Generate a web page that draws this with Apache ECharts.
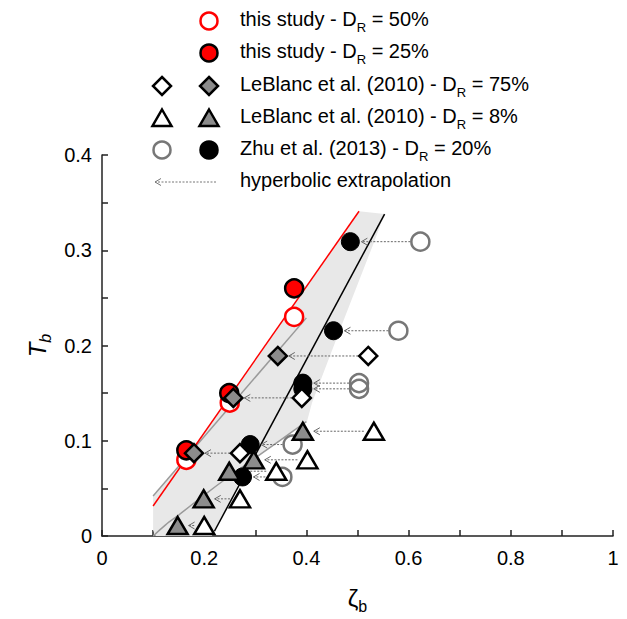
<!DOCTYPE html>
<html><head><meta charset="utf-8">
<script src="https://cdn.jsdelivr.net/npm/echarts@6/dist/echarts.min.js"></script>
<style>html,body{margin:0;padding:0;background:#fff}#c{width:627px;height:619px}</style>
</head><body><div id="c"></div>
<script>
// ---- data ----
const study50X = [0.165, 0.25, 0.376];
const study50Y = [0.08, 0.14, 0.23];
const study25X = [0.165, 0.249, 0.376];
const study25Y = [0.09, 0.15, 0.26];

const lb75Y = [0.087, 0.145, 0.189];
const lb75FilledX = [0.18, 0.257, 0.344];
const lb75OpenX = [0.27, 0.391, 0.521];

const lb8Y = [0.011, 0.039, 0.068, 0.08, 0.11];
const lb8FilledX = [0.148, 0.199, 0.249, 0.297, 0.393];
const lb8OpenX = [0.2, 0.27, 0.341, 0.402, 0.532];

const zhuY = [0.309, 0.2155, 0.1605, 0.1545, 0.096, 0.062];
const zhuFilledX = [0.486, 0.453, 0.393, 0.393, 0.29, 0.275];
const zhuOpenX = [0.623, 0.58, 0.503, 0.503, 0.373, 0.353];

const redLineX = [0.1, 0.503];
const redLineY = [0.0315, 0.341];
const grayUpperX = [0.1, 0.4];
const grayUpperY = [0.042, 0.229];
const grayLowerX = [0.1, 0.125, 0.15, 0.2, 0.25, 0.3, 0.35, 0.4];
const grayLowerY = [0, 0.012, 0.022, 0.043, 0.063, 0.082, 0.101, 0.12];
const blackLineX = [0.22, 0.553];
const blackLineY = [0.005, 0.338];

const bandX = [0.1, 0.169, 0.503, 0.553, 0.532, 0.466, 0.411, 0.401, 0.35, 0.295, 0.22, 0.215, 0.105, 0.1];
const bandY = [0.042, 0.085, 0.341, 0.338, 0.308, 0.217, 0.14, 0.12, 0.101, 0.08, 0.005, 0, 0, 0.006];

const xTickLabels = [0, 0.2, 0.4, 0.6, 0.8, 1];
const yTickLabels = [0, 0.1, 0.2, 0.3, 0.4];

const legendLabels = [
  '{m|this study - D}{sub|R}{m| = 50%}',
  '{m|this study - D}{sub|R}{m| = 25%}',
  '{m|LeBlanc et al. (2010) - D}{sub|R}{m| = 75%}',
  '{m|LeBlanc et al. (2010) - D}{sub|R}{m| = 8%}',
  '{m|Zhu et al. (2013) - D}{sub|R}{m| = 20%}',
  '{m|hyperbolic extrapolation}'
];

// ---- helpers ----
const FONT = 'Liberation Sans, Arial, Helvetica, sans-serif';
const zip = (xs, ys) => xs.map((x, i) => [x, ys[i]]);
const arrowRows = [];
zhuY.forEach((y, i) => arrowRows.push([zhuFilledX[i], zhuOpenX[i], y]));
lb75Y.forEach((y, i) => arrowRows.push([lb75FilledX[i], lb75OpenX[i], y]));
lb8Y.forEach((y, i) => arrowRows.push([lb8FilledX[i], lb8OpenX[i], y]));

const GRAY_FILL = '#8c8c8c';
const OPEN_GRAY = '#777777';
const MS = 18;

function lineSeries(xs, ys, color, smooth) {
  return {type: 'line', data: zip(xs, ys), showSymbol: false, symbol: 'none', smooth: smooth || false,
    lineStyle: {color: color, width: 1.5}, silent: true, z: 3};
}
function scatter(xs, ys, symbol, size, fill, border, bw, z) {
  return {type: 'scatter', data: zip(xs, ys), symbol: symbol, symbolSize: size,
    itemStyle: {color: fill, borderColor: border, borderWidth: bw, opacity: 1},
    emphasis: {disabled: true}, silent: true, z: z};
}

// ---- legend graphics ----
const rows = [21, 53, 86, 118, 150, 182];
const c1 = 162, c2 = 209, tx = 240;
const g = [];
function gCircle(cx, cy, fill, stroke) {
  g.push({type: 'circle', shape: {cx: cx, cy: cy, r: 8.5}, style: {fill: fill, stroke: stroke, lineWidth: 2.5}});
}
function gDiamond(cx, cy, fill) {
  const h = 9;
  g.push({type: 'polygon', shape: {points: [[cx, cy - h], [cx + h, cy], [cx, cy + h], [cx - h, cy]]},
    style: {fill: fill, stroke: '#000', lineWidth: 2.5}});
}
function gTri(cx, cy, fill) {
  g.push({type: 'polygon', shape: {points: [[cx, cy - 8.5], [cx + 9.5, cy + 8], [cx - 9.5, cy + 8]]},
    style: {fill: fill, stroke: '#000', lineWidth: 2.5}});
}
gCircle(c2, rows[0], '#fff', '#ff0000');
gCircle(c2, rows[1], '#ff0000', '#000');
gDiamond(c1, rows[2], '#fff'); gDiamond(c2, rows[2], GRAY_FILL);
gTri(c1, rows[3], '#fff'); gTri(c2, rows[3], GRAY_FILL);
gCircle(c1, rows[4], 'none', OPEN_GRAY); gCircle(c2, rows[4], '#000', '#000');
g.push({type: 'line', shape: {x1: 216, y1: rows[5], x2: 155, y2: rows[5]},
  style: {stroke: '#777', lineWidth: 1, lineDash: [2, 1.5]}});
g.push({type: 'polyline', shape: {points: [[161, rows[5] - 3.5], [155, rows[5]], [161, rows[5] + 3.5]]},
  style: {stroke: '#777', lineWidth: 1, fill: 'none'}});
legendLabels.forEach((t, i) => {
  g.push({type: 'text', x: tx, y: rows[i] - 12, style: {
    text: t, fill: '#000', fontSize: 20, fontFamily: FONT, verticalAlign: 'top', align: 'left', lineHeight: 24,
    rich: {
      m: {fontSize: 20, fontFamily: FONT, fill: '#000', lineHeight: 24, verticalAlign: 'top'},
      sub: {fontSize: 13, fontFamily: FONT, fill: '#000', lineHeight: 14, verticalAlign: 'top', padding: [12, 0, 0, 0]}
    }
  }});
});

const option = {
  animation: false,
  backgroundColor: '#fff',
  grid: {left: 102, right: 14, top: 155, bottom: 82, containLabel: false},
  xAxis: {
    type: 'value', min: 0, max: 1, interval: 0.1,
    name: '{z|ζ}{s|b}', nameLocation: 'middle', nameGap: 50,
    nameTextStyle: {rich: {
      z: {fontSize: 24, fontFamily: FONT, color: '#000', lineHeight: 26, verticalAlign: 'top'},
      s: {fontSize: 16, fontFamily: FONT, color: '#000', lineHeight: 16, verticalAlign: 'top', padding: [12, 0, 0, 0]}}},
    axisLine: {show: true, lineStyle: {color: '#222', width: 1.5}},
    axisTick: {show: true, inside: true, length: 6, lineStyle: {color: '#222', width: 1.5}},
    axisLabel: {customValues: xTickLabels, fontSize: 20, fontFamily: FONT, color: '#000', margin: 12},
    splitLine: {show: false}
  },
  yAxis: {
    type: 'value', min: 0, max: 0.4, interval: 0.05,
    name: '{t|T}{s|b}', nameLocation: 'middle', nameGap: 24, nameRotate: 90,
    nameTextStyle: {rich: {
      t: {fontSize: 24, fontStyle: 'italic', fontFamily: FONT, color: '#000', lineHeight: 26, verticalAlign: 'top'},
      s: {fontSize: 16, fontStyle: 'italic', fontFamily: FONT, color: '#000', lineHeight: 16, verticalAlign: 'top', padding: [12, 0, 0, 0]}}},
    axisLine: {show: true, lineStyle: {color: '#222', width: 1.5}},
    axisTick: {show: true, inside: true, length: 6, lineStyle: {color: '#222', width: 1.5}},
    axisLabel: {customValues: yTickLabels, fontSize: 20, fontFamily: FONT, color: '#000', margin: 10},
    splitLine: {show: false}
  },
  graphic: g,
  series: [
    {type: 'custom', data: [[0, 0]], silent: true, z: 1,
      renderItem: function (params, api) {
        const pts = bandX.map((x, i) => api.coord([x, bandY[i]]));
        return {type: 'polygon', shape: {points: pts}, style: {fill: '#e8e8e8', stroke: 'none'}};
      }},
    lineSeries(grayUpperX, grayUpperY, '#9a9a9a'),
    lineSeries(grayLowerX, grayLowerY, '#9a9a9a', 0.3),
    lineSeries(redLineX, redLineY, '#ff0000'),
    lineSeries(blackLineX, blackLineY, '#000000'),
    {type: 'custom', data: arrowRows, encode: {x: [0, 1], y: 2}, silent: true, z: 4,
      renderItem: function (params, api) {
        const pl = api.coord([api.value(0), api.value(2)]);
        const pr = api.coord([api.value(1), api.value(2)]);
        const x0 = pl[0] + 11, x1 = pr[0] - 10, y = pl[1];
        return {type: 'group', children: [
          {type: 'line', shape: {x1: x1, y1: y, x2: x0, y2: y}, style: {stroke: '#666', lineWidth: 1, lineDash: [2, 1.5]}},
          {type: 'polyline', shape: {points: [[x0 + 6, y - 3.5], [x0, y], [x0 + 6, y + 3.5]]}, style: {stroke: '#666', lineWidth: 1, fill: 'none'}}
        ]};
      }},
    scatter(study50X, study50Y, 'circle', MS, '#ffffff', '#ff0000', 2.5, 5),
    scatter(study25X, study25Y, 'circle', MS, '#ff0000', '#000000', 2.5, 6),
    scatter(zhuOpenX, zhuY, 'circle', MS, 'rgba(0,0,0,0)', OPEN_GRAY, 2.5, 5),
    scatter(zhuFilledX, zhuY, 'circle', MS, '#000000', '#000000', 1, 6),
    scatter(lb75OpenX, lb75Y, 'diamond', [18, 18], '#ffffff', '#000000', 2.5, 7),
    scatter(lb75FilledX, lb75Y, 'diamond', [18, 18], GRAY_FILL, '#000000', 2.5, 7),
    scatter(lb8OpenX, lb8Y, 'triangle', [20, 17], '#ffffff', '#000000', 2.5, 7),
    scatter(lb8FilledX, lb8Y, 'triangle', [20, 17], GRAY_FILL, '#000000', 2.5, 7)
  ]
};
const chart = echarts.init(document.getElementById('c'), null, {renderer: 'svg'});
chart.setOption(option);
</script></body></html>
